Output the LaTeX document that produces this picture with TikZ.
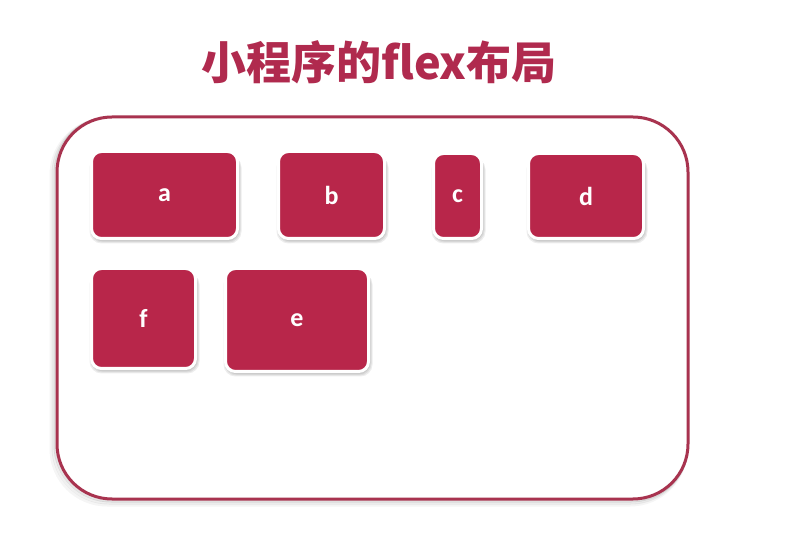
\documentclass[tikz,border=0pt]{standalone}
\usepackage{fontspec}
\setmainfont{Carlito}
\newfontfamily\cjk{Noto Sans CJK SC}
\definecolor{boxred}{HTML}{B8264A}
\definecolor{titlered}{HTML}{B02A4E}
\definecolor{frame}{HTML}{A8334F}
\tikzset{
  flexbox/.style={draw=white, line width=3pt, fill=boxred, rounded corners=10pt,
    inner sep=0pt, text=white, font=\bfseries\fontsize{26}{26}\selectfont},
  boxshadow/.style={fill=black, fill opacity=0.07, rounded corners=12pt}
}
\begin{document}
\begin{tikzpicture}[x=1pt,y=-1pt]
\useasboundingbox (0,0) rectangle (811,534);
\fill[white] (0,0) rectangle (811,534);
% title
\node (title) at (379,62) {\cjk\bfseries\color{titlered}\fontsize{45}{45}\selectfont 小程序的flex布局};
% container shadow
\foreach \o/\op in {6/0.04,4/0.06,2/0.10}{
  \draw[black, draw opacity=\op, line width=3pt, rounded corners=56pt]
    (57-\o,117+\o*0.3) rectangle (688-\o*0.3,499+\o);
}
\draw[frame, line width=3pt, fill=white, rounded corners=55pt] (57,117) rectangle (688,499);
% box shadows
\foreach \cx/\cy/\w/\h in {164.5/195/146/87, 331.5/195/106/87, 457.5/196/48/85, 586/196/115/85, 143.5/318.5/104/100, 297/320/143/103}{
  \foreach \s in {2,4,6}{
    \fill[boxshadow] (\cx-\w/2-\s/2+1,\cy-\h/2+\s/2+1) rectangle (\cx+\w/2+\s/2+1,\cy+\h/2+\s/2+2);
  }
}
% boxes
\node[flexbox, minimum width=146pt, minimum height=87pt] (a) at (164.5,195) {a};
\node[flexbox, minimum width=106pt, minimum height=87pt] (b) at (331.5,195) {b};
\node[flexbox, minimum width=48pt, minimum height=85pt] (c) at (457.5,196) {c};
\node[flexbox, minimum width=115pt, minimum height=85pt] (d) at (586,196) {d};
\node[flexbox, minimum width=104pt, minimum height=100pt] (f) at (143.5,318.5) {f};
\node[flexbox, minimum width=143pt, minimum height=103pt] (e) at (297,320) {e};
\end{tikzpicture}
\end{document}
